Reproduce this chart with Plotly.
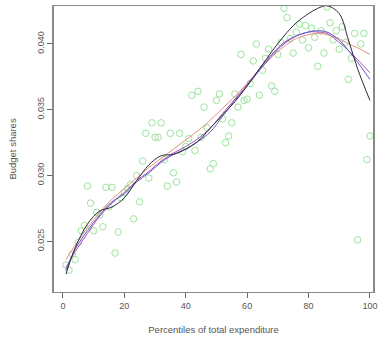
import plotly.graph_objects as go

# Scatter data: percentile (x) and budget share (y)
pct = list(range(1, 101))
shares = [
    0.0232, 0.0228, 0.0240, 0.0236, 0.0249, 0.0258, 0.0262, 0.0292, 0.0279, 0.0258,
    0.0272, 0.0270, 0.0261, 0.0291, 0.0276, 0.0291, 0.0241, 0.0257, 0.0283, 0.0287,
    0.0290, 0.0293, 0.0267, 0.0300, 0.0280, 0.0311, 0.0332, 0.0298, 0.0340, 0.0329,
    0.0329, 0.0340, 0.0312, 0.0292, 0.0332, 0.0302, 0.0295, 0.0332, 0.0318, 0.0322,
    0.0328, 0.0361, 0.0319, 0.0364, 0.0329, 0.0352, 0.0336, 0.0305, 0.0309, 0.0357,
    0.0362, 0.0343, 0.0325, 0.0330, 0.0340, 0.0362, 0.0352, 0.0392, 0.0357, 0.0358,
    0.0370, 0.0387, 0.0400, 0.0361, 0.0380, 0.0389, 0.0396, 0.0368, 0.0364, 0.0392,
    0.0401, 0.0427, 0.0420, 0.0404, 0.0393, 0.0409, 0.0415, 0.0403, 0.0414, 0.0397,
    0.0412, 0.0405, 0.0383, 0.0410, 0.0393, 0.0428, 0.0416, 0.0403, 0.0410, 0.0396,
    0.0413, 0.0401, 0.0373, 0.0389, 0.0408, 0.0251, 0.0400, 0.0408, 0.0312, 0.0330,
]

# Fitted curves
fit_x = [1, 4, 8, 12, 16, 20, 24, 28, 32, 36, 40, 44, 48, 52, 56, 60, 64, 68, 72, 76, 80, 83, 86, 90, 93, 96, 100]
fit_black = [0.0225, 0.0245, 0.0263, 0.0273, 0.0276, 0.0283, 0.0296, 0.0308, 0.0315, 0.0316, 0.0320, 0.0326, 0.0336, 0.0346, 0.0356, 0.0368, 0.0381, 0.0394, 0.0406, 0.0416, 0.0423, 0.0427, 0.0429, 0.0423, 0.0403, 0.0381, 0.0357]
fit_blue = [0.0228, 0.0244, 0.0258, 0.0270, 0.0280, 0.0286, 0.0295, 0.0302, 0.0310, 0.0316, 0.0320, 0.0326, 0.0333, 0.0345, 0.0357, 0.0368, 0.0380, 0.0391, 0.0400, 0.0406, 0.0409, 0.0410, 0.0409, 0.0403, 0.0395, 0.0386, 0.0373]
fit_red = [0.0236, 0.0247, 0.0260, 0.0272, 0.0282, 0.0290, 0.0298, 0.0306, 0.0313, 0.0320, 0.0327, 0.0334, 0.0342, 0.0351, 0.0360, 0.0370, 0.0380, 0.0390, 0.0398, 0.0404, 0.0407, 0.0408, 0.0407, 0.0404, 0.0400, 0.0397, 0.0392]
fit_purple = [0.0230, 0.0242, 0.0256, 0.0269, 0.0279, 0.0287, 0.0296, 0.0303, 0.0311, 0.0317, 0.0322, 0.0328, 0.0336, 0.0347, 0.0358, 0.0369, 0.0381, 0.0392, 0.0401, 0.0406, 0.0409, 0.0409, 0.0408, 0.0401, 0.0395, 0.0388, 0.0378]

x_ticks = [0, 20, 40, 60, 80, 100]
y_ticks = [0.025, 0.030, 0.035, 0.040]
y_tick_labels = ["0.025", "0.030", "0.035", "0.040"]

fig = go.Figure()
fig.add_trace(go.Scatter(
    x=pct, y=shares, mode="markers",
    marker=dict(symbol="circle-open", size=6.5, color="#9be49b", line=dict(width=1)),
    showlegend=False, cliponaxis=True))

for ys, col in [(fit_red, "#e8907c"), (fit_purple, "#b050b8"), (fit_blue, "#5858cc"), (fit_black, "#2a2a3a")]:
    fig.add_trace(go.Scatter(
        x=fit_x, y=ys, mode="lines", line=dict(color=col, width=1, shape="spline", smoothing=1.0),
        showlegend=False))

tick_font = dict(family="Liberation Sans, Arial, sans-serif", size=9, color="#555555")
title_font = dict(family="Liberation Sans, Arial, sans-serif", size=9.5, color="#555555")
fig.update_layout(
    width=382, height=341,
    margin=dict(l=54, r=6, t=5, b=49),
    paper_bgcolor="white", plot_bgcolor="white",
    font=tick_font,
    xaxis=dict(
        range=[-2.9, 101.0], tickvals=x_ticks, ticktext=[str(v) for v in x_ticks],
        tickfont=tick_font,
        showgrid=False, zeroline=False, showline=True, mirror=True,
        linecolor="#8a8a8a", linewidth=1, ticks="outside", ticklen=5, tickcolor="#666666",
        title=dict(text="Percentiles of total expenditure", font=title_font, standoff=16),
    ),
    yaxis=dict(
        range=[0.02114, 0.04288], tickvals=y_ticks, ticktext=y_tick_labels,
        tickangle=-90, tickfont=tick_font,
        showgrid=False, zeroline=False, showline=True, mirror=True,
        linecolor="#8a8a8a", linewidth=1.5, ticks="outside", ticklen=5, tickcolor="#666666",
        title=dict(text="Budget shares", font=title_font, standoff=17),
    ),
)

fig.write_html("out.html", config={"displayModeBar": False},
               post_script="document.body.style.margin='0';document.body.style.overflow='hidden';")
